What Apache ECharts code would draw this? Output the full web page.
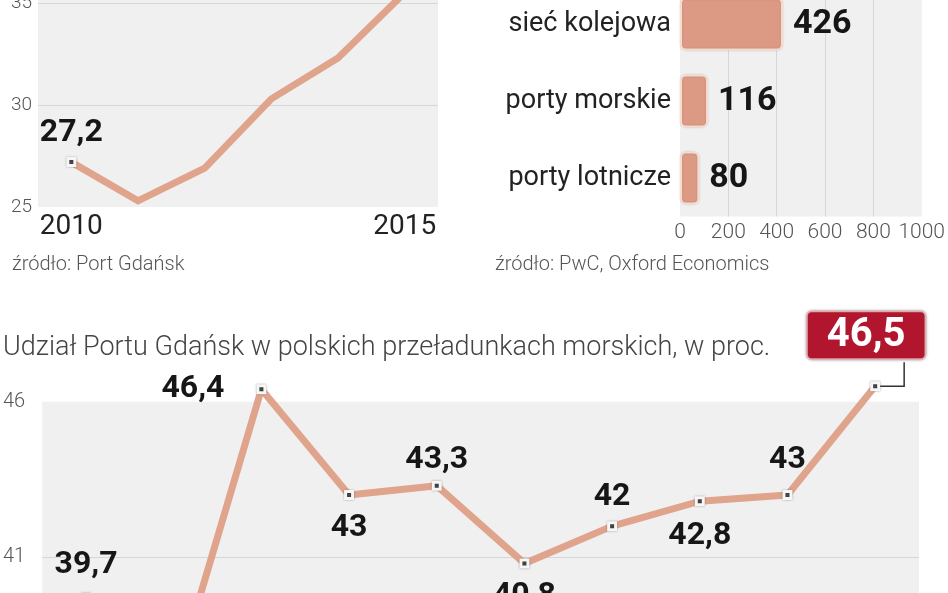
<!DOCTYPE html>
<html>
<head>
<meta charset="utf-8">
<script src="https://cdn.jsdelivr.net/npm/echarts@6/dist/echarts.min.js"></script>
<style>
html,body{margin:0;padding:0;background:#fff;overflow:hidden;width:948px;height:593px;}
#c{position:absolute;left:0;top:-120px;width:948px;height:860px;}
</style>
</head>
<body>
<div id="c"></div>
<script>
// ---- data ----
const cargoYears = ['2010','2011','2012','2013','2014','2015'];
const cargoValues = [27.2, 25.3, 26.9, 30.3, 32.3, 35.5];

const investCategories = ['sieć kolejowa','porty morskie','porty lotnicze'];
const investValues = [426, 116, 80];

const shareYears = ['2006','2007','2008','2009','2010','2011','2012','2013','2014','2015'];
const shareValues = [39.7, 36.9, 46.4, 43, 43.3, 40.8, 42, 42.8, 43, 46.5];

const shareTicksShown = [41, 46];
const titleText = 'Udział Portu Gdańsk w polskich przeładunkach morskich, w proc.';
const source1 = 'źródło: Port Gdańsk';
const source2 = 'źródło: PwC, Oxford Economics';

// ---- styles ----
const LINE = '#e0a38c';
const BAR = '#dc9a84';
const BG = '#f0f0f0';
const GRIDLINE = '#d6d6d6';
const F = 'Roboto';
const fmt = v => String(v).replace('.', ',');
const T = 'rgba(0,0,0,0)';

const marker = {color:'#484848', borderColor:'#f6f6f6', borderWidth:3, shadowBlur:2, shadowColor:'rgba(0,0,0,0.35)'};
const valLabel = {show:true, fontFamily:F, fontWeight:'bold', fontSize:32, color:'#161616'};

const shareLabelPos = [
  {position:'top', distance:12},
  {show:false},
  {position:'left', distance:32},
  {position:'bottom', distance:12},
  {position:'top', distance:5},
  {position:'bottom', distance:12},
  {position:'top', distance:8},
  {position:'bottom', distance:14},
  {position:'top', distance:14},
  {position:'top', distance:23, offset:[-9,0], color:'#fff', fontSize:40,
   backgroundColor:'#b2162f', borderColor:'#eab9bb', borderWidth:2, borderRadius:4,
   padding:[4,19,2,19], shadowBlur:3, shadowColor:'rgba(0,0,0,0.25)'}
];

const chart = echarts.init(document.getElementById('c'), null, {renderer:'canvas'});

const option = {
  animation:false,
  backgroundColor:'#fff',
  title:[
    {text:source1, left:12, top:375, padding:0, textStyle:{fontFamily:F, fontWeight:300, fontSize:20, color:'#555'}},
    {text:source2, left:495, top:375, padding:0, textStyle:{fontFamily:F, fontWeight:300, fontSize:20, color:'#555'}},
    {text:titleText, left:3, top:455, padding:0, textStyle:{fontFamily:F, fontWeight:300, fontSize:27, color:'#444'}}
  ],
  grid:[
    {left:38, top:21, width:400, height:306, show:true, backgroundColor:BG, borderWidth:0},
    {left:680, top:105.5, width:246, height:231, show:true, backgroundColor:BG, borderWidth:0},
    {left:38, top:521.7, width:881, height:311.1, show:true, backgroundColor:BG, borderWidth:0}
  ],
  xAxis:[
    {gridIndex:0, type:'category', data:cargoYears, boundaryGap:true,
     axisLine:{show:false}, axisTick:{show:false},
     axisLabel:{interval:0, margin:6, fontFamily:F, fontSize:28, color:'#222',
       formatter:(v,i)=> (i===0||i===cargoYears.length-1)? v : ''}},
    {gridIndex:1, type:'value', min:0, max:1000, interval:200,
     axisLine:{show:false}, axisTick:{show:false},
     axisLabel:{margin:6, fontFamily:F, fontWeight:300, fontSize:21, color:'#555', formatter:v=>String(v)},
     splitLine:{show:true, showMinLine:false, showMaxLine:false, lineStyle:{color:GRIDLINE, width:1}}},
    {gridIndex:2, type:'category', data:shareYears, boundaryGap:true,
     axisLine:{show:false}, axisTick:{show:false}, axisLabel:{show:false}}
  ],
  yAxis:[
    {gridIndex:0, type:'value', min:25, max:40, interval:5,
     axisLine:{show:false}, axisTick:{show:false},
     axisLabel:{margin:6, fontFamily:F, fontWeight:300, fontSize:19, color:'#555'},
     splitLine:{show:true, showMinLine:false, lineStyle:{color:GRIDLINE, width:1}}},
    {gridIndex:1, type:'category', data:investCategories, inverse:true,
     axisLine:{show:false}, axisTick:{show:false},
     axisLabel:{margin:9, fontFamily:F, fontSize:27, color:'#222'}},
    {gridIndex:2, type:'value', min:36, max:46, interval:1,
     axisLine:{show:false}, axisTick:{show:false},
     axisLabel:{margin:17, fontFamily:F, fontWeight:300, fontSize:20, color:'#555',
       formatter:v=> shareTicksShown.indexOf(v)>=0 ? String(v) : ''},
     splitLine:{show:true, lineStyle:{width:1,
       color:[T,T,T,T,T,GRIDLINE,T,T,T,T,T]}}}
  ],
  series:[
    {type:'line', xAxisIndex:0, yAxisIndex:0, clip:false,
     data: cargoValues.map((v,i)=> i===0
        ? {value:v, symbol:'rect', symbolSize:7, itemStyle:marker,
           label:Object.assign({}, valLabel, {position:'top', distance:8, formatter:p=>fmt(p.value)})}
        : {value:v, symbol:'none'}),
     showAllSymbol:true,
     lineStyle:{color:LINE, width:7, join:'miter'}, itemStyle:marker, z:3},
    {type:'bar', xAxisIndex:1, yAxisIndex:1, data:investValues, barWidth:53,
     itemStyle:{color:BAR, borderColor:'#f6dccf', borderWidth:2, borderRadius:5,
                shadowBlur:2, shadowColor:'rgba(0,0,0,0.15)'},
     label:Object.assign({}, valLabel, {position:'right', distance:10, fontSize:34})},
    {type:'line', xAxisIndex:2, yAxisIndex:2, clip:false,
     symbol:'rect', symbolSize:7, showAllSymbol:true,
     data: shareValues.map((v,i)=>({value:v,
        label:Object.assign({}, valLabel, {formatter:p=>fmt(p.value)}, shareLabelPos[i])})),
     lineStyle:{color:LINE, width:7}, itemStyle:marker, z:3}
  ]
};
chart.setOption(option);

// connector from last point to its highlighted label
const last = shareValues.length - 1;
const pt = chart.convertToPixel({seriesIndex:2}, [last, shareValues[last]]);
chart.setOption({graphic:[{type:'polyline', z:10, silent:true,
  shape:{points:[[pt[0]+5, pt[1]], [pt[0]+29, pt[1]], [pt[0]+29, pt[1]-24]]},
  style:{stroke:'#333', lineWidth:1.5, fill:null}}]});
</script>
</body>
</html>
